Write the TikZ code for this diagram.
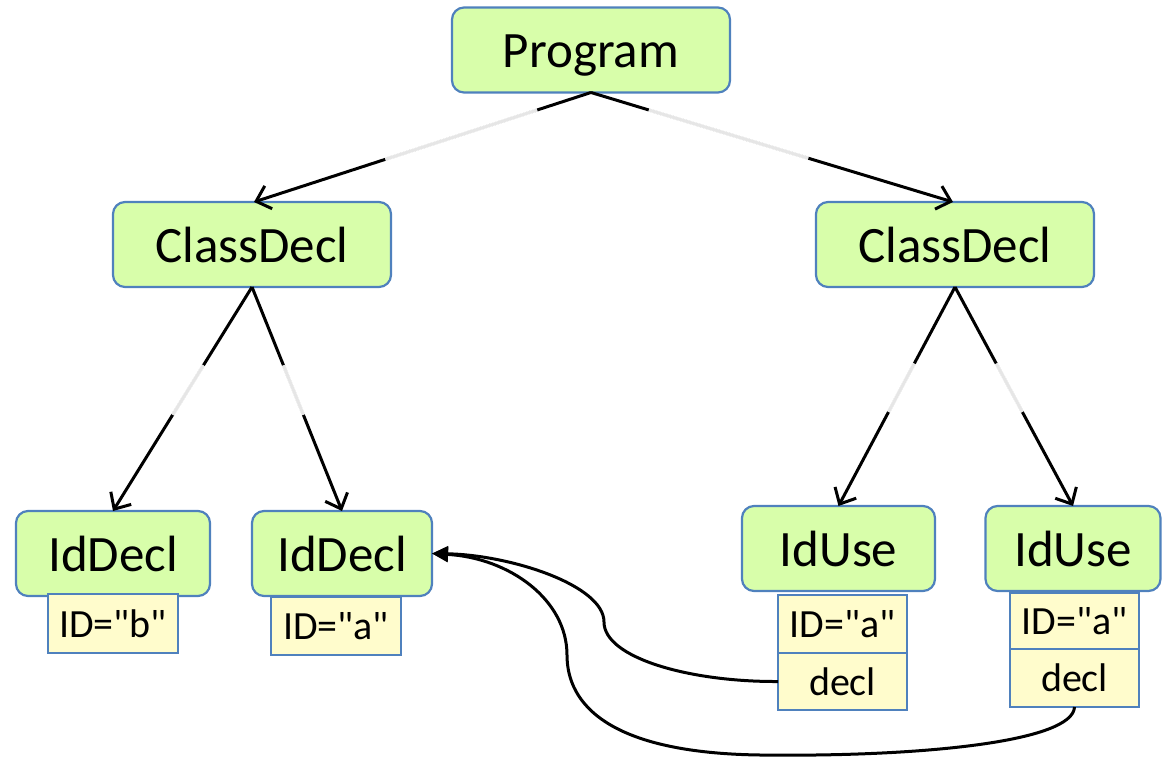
\documentclass[tikz,border=0pt]{standalone}
\usepackage{fontspec}
\setmainfont{Carlito}[Ligatures=TeXOff]
\usetikzlibrary{arrows.meta,calc}
\definecolor{gfill}{RGB}{216,254,170}
\definecolor{yfill}{RGB}{255,252,204}
\definecolor{bord}{RGB}{79,129,189}
\definecolor{gapgray}{RGB}{230,230,230}
\newcommand{\qq}[1]{ID="#1"}
\tikzset{
  gbox/.style={draw=bord, line width=2.2pt, fill=gfill, rounded corners=12pt, inner sep=0pt, outer sep=0pt,
    minimum height=85pt, font=\fontsize{51}{60}\selectfont, text height=35pt, text depth=0pt},
  ybox/.style={draw=bord, line width=2.2pt, fill=yfill, inner sep=0pt, outer sep=0pt,
    minimum width=129pt, font=\fontsize{40}{47}\selectfont, text height=27pt, text depth=0pt},
  edge/.style={line width=3pt, draw=black, -{Straight Barb[length=13pt,width=24pt,line width=3pt]}},
  gapseg/.style={line width=3.9pt, draw=white, line cap=butt,
    postaction={draw=gapgray, line width=3pt}},
  ref/.style={line width=3pt, draw=black, -{Triangle[length=16pt,width=15pt]}}
}
\begin{document}
\begin{tikzpicture}[x=1pt,y=-1pt]
\useasboundingbox (0,0) rectangle (1162,757);
% green nodes
\node[gbox, minimum width=278pt] (prog) at (591,50) {Program};
\node[gbox, minimum width=278pt] (cd1) at (252,244.5) {ClassDecl};
\node[gbox, minimum width=278pt] (cd2) at (955,244.5) {ClassDecl};
\node[gbox, minimum width=194pt] (d1) at (113,553.5) {IdDecl};
\node[gbox, minimum width=180pt] (d2) at (342,553.5) {IdDecl};
\node[gbox, minimum width=193pt] (u1) at (838.5,548.5) {IdUse};
\node[gbox, minimum width=175pt] (u2) at (1073,548.5) {IdUse};
% attribute boxes
\node[ybox, minimum width=130pt, minimum height=59pt] (d1id) at (113,623.5) {\qq{b}};
\node[ybox, minimum width=130pt, minimum height=58pt] (d2id) at (336,626) {\qq{a}};
\node[ybox, minimum height=58pt] (u1id) at (842.5,624) {\qq{a}};
\node[ybox, minimum height=57pt] (u1decl) at (842.5,681.5) {decl};
\node[ybox, minimum height=56pt] (u2id) at (1074.5,621) {\qq{a}};
\node[ybox, minimum height=58pt] (u2decl) at (1074.5,678) {decl};
% tree edges
\coordinate (cd1t) at (254,202);
\coordinate (cd2t) at (953,202);
\draw[edge] (prog.south) -- (cd1t);
\draw[edge] (prog.south) -- (cd2t);
\draw[gapseg] ($(prog.south)!0.16!(cd1t)$) -- ($(prog.south)!0.61!(cd1t)$);
\draw[gapseg] ($(prog.south)!0.16!(cd2t)$) -- ($(prog.south)!0.60!(cd2t)$);
\draw[edge] (cd1.south) -- (d1.north);
\draw[edge] (cd1.south) -- (d2.north);
\draw[gapseg] ($(cd1.south)!0.35!(d1.north)$) -- ($(cd1.south)!0.57!(d1.north)$);
\draw[gapseg] ($(cd1.south)!0.35!(d2.north)$) -- ($(cd1.south)!0.57!(d2.north)$);
\draw[edge] (cd2.south) -- (u1.north);
\draw[edge] (cd2.south) -- (u2.north);
\draw[gapseg] ($(cd2.south)!0.35!(u1.north)$) -- ($(cd2.south)!0.57!(u1.north)$);
\draw[gapseg] ($(cd2.south)!0.35!(u2.north)$) -- ($(cd2.south)!0.57!(u2.north)$);
% reference edges
\draw[ref] (u1decl.west) .. controls (690,682) and (604,658) .. (604,622)
  .. controls (604,585) and (510,555) .. (d2.east);
\draw[ref] (u2decl.south) .. controls (1073,742) and (920,757) .. (760,755)
  .. controls (610,753) and (567,705) .. (567,655)
  .. controls (567,600) and (510,558) .. (d2.east);
\end{tikzpicture}
\end{document}
